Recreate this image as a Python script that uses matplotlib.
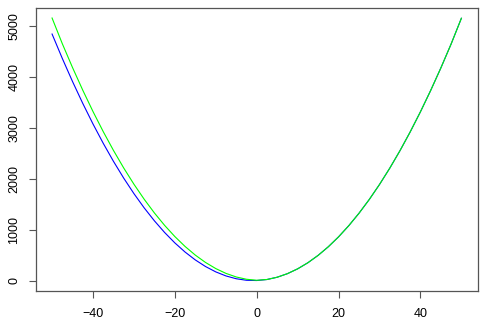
import numpy as np
import matplotlib
matplotlib.use("Agg")
import matplotlib.pyplot as plt

# values, x step 2.5
x = np.arange(-50, 50.01, 2.5)
blue = [4850, 4370, 3915, 3485, 3080, 2700, 2345, 2015, 1710, 1430,
        1175, 945, 740, 560, 405, 275, 170, 90, 35, 5,
        0, 20, 65, 135, 230, 350, 495, 665, 860, 1080,
        1325, 1595, 1890, 2210, 2555, 2925, 3320, 3740, 4185, 4655, 5160]
green = [5165, 4660, 4190, 3745, 3325, 2930, 2560, 2215, 1895, 1600,
         1330, 1085, 865, 670, 500, 355, 235, 140, 70, 25,
         5, 20, 65, 135, 230, 350, 495, 665, 860, 1080,
         1325, 1595, 1890, 2210, 2555, 2925, 3320, 3740, 4185, 4655, 5160]

xticks = [-40, -20, 0, 20, 40]
yticks = [0, 1000, 2000, 3000, 4000, 5000]

plt.rcParams['font.family'] = ['Liberation Sans', 'DejaVu Sans']

fig = plt.figure(figsize=(4.87, 3.27), dpi=100)
ax = fig.add_axes([0.0733, 0.110, 0.9077, 0.867])

ax.plot(x, blue, color='#0000FF', lw=0.8)
ax.plot(x, green, color='#00FF00', lw=0.8)

ax.margins(x=0.04, y=0.04)
ax.set_xticks(xticks)
ax.set_yticks(yticks)
ax.set_yticklabels([str(v) for v in yticks], rotation=90, va='center')
ax.tick_params(length=5, width=0.8, color='#555555', labelsize=9, pad=7)
ax.tick_params(axis='y', pad=6)
for s in ax.spines.values():
    s.set_linewidth(0.9)
    s.set_color('#555555')

fig.savefig('out.png', dpi=100)
